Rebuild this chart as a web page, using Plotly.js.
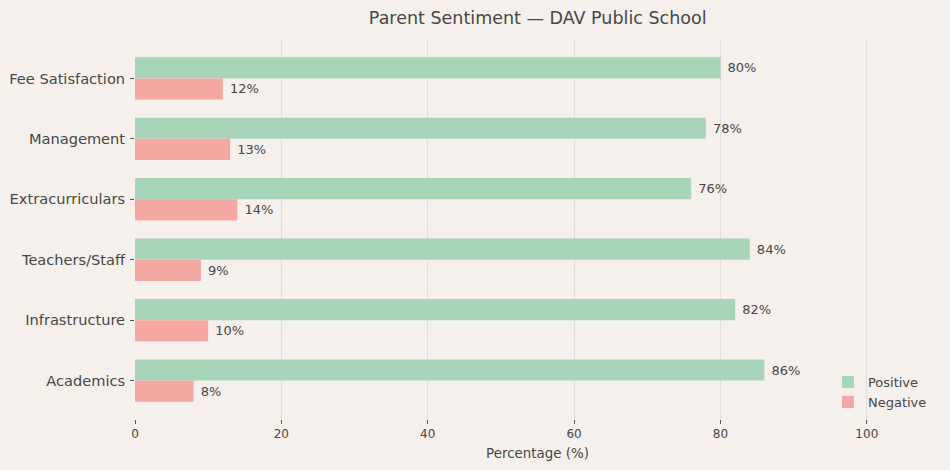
<!DOCTYPE html>
<html><head><meta charset="utf-8">
<script src="https://cdn.plot.ly/plotly-3.0.1.min.js"></script>
<style>html,body{margin:0;padding:0;background:#f5f0ec;}</style>
</head><body>
<div id="chart" style="width:950px;height:470px;"></div>
<script>
const categories = ["Academics", "Infrastructure", "Teachers/Staff", "Extracurriculars", "Management", "Fee Satisfaction"];
const positive = [86, 82, 84, 76, 78, 80];
const negative = [8, 10, 9, 14, 13, 12];
const xTicks = [0, 20, 40, 60, 80, 100];

const font = "DejaVu Sans, sans-serif";
const txt = "#474747";

const traces = [
  {
    type: "bar", orientation: "h", name: "Positive",
    y: categories, x: positive,
    offset: 0, width: 0.35,
    marker: {color: "#a8d5ba"},
    text: positive.map(v => " " + v + "%"),
    textposition: "outside", constraintext: "none", cliponaxis: false,
    textfont: {family: font, size: 13, color: txt},
    hoverinfo: "skip"
  },
  {
    type: "bar", orientation: "h", name: "Negative",
    y: categories, x: negative,
    offset: -0.35, width: 0.35,
    marker: {color: "#f5a7a3"},
    text: negative.map(v => " " + v + "%"),
    textposition: "outside", constraintext: "none", cliponaxis: false,
    textfont: {family: font, size: 13, color: txt},
    hoverinfo: "skip"
  }
];

const layout = {
  width: 950, height: 470,
  paper_bgcolor: "#f5f0ec", plot_bgcolor: "#f5f0ec",
  font: {family: font, color: txt},
  margin: {l: 135, r: 10, t: 40, b: 51},
  title: {text: "Parent Sentiment — DAV Public School", x: 0.566, xanchor: "center", y: 0.962, yanchor: "middle",
          font: {family: font, size: 17.5, color: txt}},
  barmode: "overlay",
  showlegend: true,
  legend: {x: 0.99, xanchor: "right", y: 0.005, yanchor: "bottom",
           bgcolor: "rgba(0,0,0,0)", font: {family: font, size: 13, color: txt}},
  xaxis: {
    range: [0, 110], tickvals: xTicks, ticktext: xTicks.map(String),
    showgrid: true, gridcolor: "#e2ddd8", gridwidth: 1,
    zeroline: false, showline: false,
    ticks: "outside", ticklen: 4, tickcolor: "#555",
    tickfont: {family: font, size: 12, color: txt},
    title: {text: "Percentage (%)", font: {family: font, size: 13.4, color: txt}, standoff: 8}
  },
  yaxis: {
    type: "category", categoryorder: "array", categoryarray: categories,
    range: [-0.635, 5.635],
    showgrid: false, zeroline: false, showline: false,
    ticks: "outside", ticklen: 4, tickcolor: "#555", ticklabelstandoff: 2,
    tickfont: {family: font, size: 14.6, color: txt}
  }
};

Plotly.newPlot("chart", traces, layout, {displayModeBar: false, staticPlot: true});
</script>
</body></html>
